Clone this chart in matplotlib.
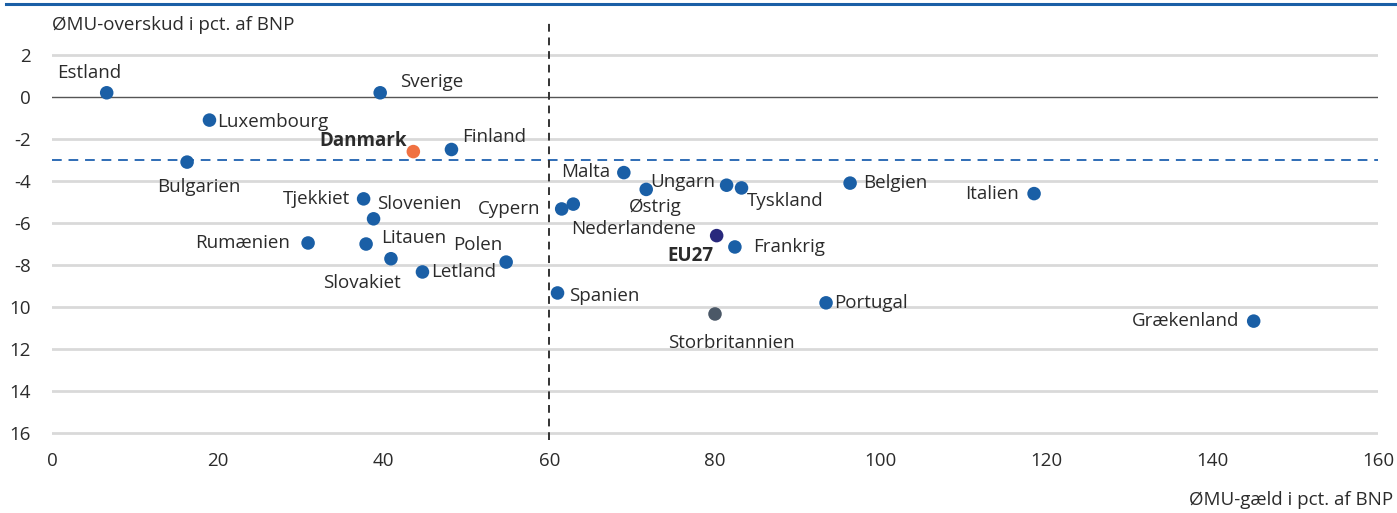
import matplotlib
matplotlib.use('Agg')
import matplotlib.pyplot as plt
from matplotlib import font_manager

# Data: ØMU-gæld (x) og ØMU-overskud (y), i pct. af BNP
lande = ['Estland', 'Sverige', 'Luxembourg', 'Danmark', 'Finland', 'Bulgarien',
         'Tjekkiet', 'Slovenien', 'Rumænien', 'Litauen', 'Slovakiet', 'Letland',
         'Polen', 'Cypern', 'Nederlandene', 'Malta', 'Østrig', 'Ungarn',
         'Tyskland', 'Belgien', 'Italien', 'EU27', 'Frankrig', 'Spanien',
         'Storbritannien', 'Portugal', 'Grækenland']
gaeld = [6.6, 39.6, 19.0, 43.6, 48.2, 16.3,
         37.6, 38.8, 30.9, 37.9, 40.9, 44.7,
         54.8, 61.5, 62.9, 69.0, 71.7, 81.4,
         83.2, 96.3, 118.5, 80.2, 82.4, 61.0,
         80.0, 93.4, 145.0]
overskud = [0.2, 0.2, -1.1, -2.6, -2.5, -3.1,
            -4.85, -5.8, -6.95, -7.0, -7.7, -8.33,
            -7.86, -5.33, -5.1, -3.6, -4.4, -4.2,
            -4.33, -4.1, -4.6, -6.6, -7.14, -9.33,
            -10.33, -9.8, -10.67]

yticks = [2, 0, -2, -4, -6, -8, -10, -12, -14, -16]
ytick_labels = ['2', '0', '-2', '-4', '-6', '-8', '10', '12', '14', '16']
xticks = [0, 20, 40, 60, 80, 100, 120, 140, 160]

# Label placement (offset in pixels, alignment)
placering = {
    'Estland': (-18, 20, 'center'), 'Sverige': (20, 11, 'left'),
    'Luxembourg': (8, -2, 'left'), 'Danmark': (-6, 11, 'right'),
    'Finland': (11, 13, 'left'), 'Bulgarien': (12, -25, 'center'),
    'Tjekkiet': (-13, 0, 'right'), 'Slovenien': (4, 15, 'left'),
    'Rumænien': (-18, 0, 'right'), 'Litauen': (15, 6, 'left'),
    'Slovakiet': (-29, -24, 'center'), 'Letland': (9, 0, 'left'),
    'Polen': (-4, 17, 'right'), 'Cypern': (-21, 0, 'right'),
    'Nederlandene': (60, -25, 'center'), 'Malta': (-14, 1, 'right'),
    'Østrig': (9, -18, 'center'), 'Ungarn': (-11, 3, 'right'),
    'Tyskland': (5, -13, 'left'), 'Belgien': (13, 0, 'left'),
    'Italien': (-15, 0, 'right'), 'EU27': (-3, -20, 'right'),
    'Frankrig': (18, 0, 'left'), 'Spanien': (12, -3, 'left'),
    'Storbritannien': (16, -29, 'center'), 'Portugal': (8, 0, 'left'),
    'Grækenland': (-14, 0, 'right'),
}

farver = {'Danmark': '#f07142', 'EU27': '#28287c', 'Storbritannien': '#4b5867'}
fed = ['Danmark', 'EU27']
blaa = '#1a5fa6'
tekst = '#2b2b2b'

installed = {f.name for f in font_manager.fontManager.ttflist}
fams = [f for f in ['Liberation Sans Narrow', 'Open Sans', 'DejaVu Sans'] if f in installed]
plt.rcParams['font.family'] = fams

fig = plt.figure(figsize=(13.97, 5.13), dpi=100)
ax = fig.add_axes([52 / 1397, 73 / 513, 1326 / 1397, 418 / 513])

ax.set_xlim(0, 160)
ax.set_ylim(-16.33, 3.57)

for yt in yticks:
    if yt == 0:
        ax.axhline(0, color='#555555', lw=1.0, zorder=1)
    else:
        ax.axhline(yt, color='#d9d9d9', lw=2.0, zorder=0)

ax.axhline(-3, color='#2f6db5', lw=1.4, ls=(0, (5, 3.5)), zorder=2)
ax.axvline(60, color='#333333', lw=1.4, ls=(0, (4, 3)), zorder=2)

for navn, x, y in zip(lande, gaeld, overskud):
    ax.scatter(x, y, s=95, color=farver.get(navn, blaa), edgecolor='none', zorder=3)
    dx, dy, ha = placering[navn]
    ax.annotate(navn, (x, y), xytext=(dx, dy), textcoords='offset pixels',
                ha=ha, va='center', fontsize=13.5, color=tekst,
                fontweight='bold' if navn in fed else 'normal', zorder=4)

ax.set_yticks(yticks)
ax.set_yticklabels(ytick_labels)
ax.set_xticks(xticks)
ax.tick_params(length=0, labelsize=13.5, labelcolor=tekst)
ax.tick_params(axis='y', pad=15)
ax.tick_params(axis='x', pad=9)
for s in ax.spines.values():
    s.set_visible(False)

fig.text(52 / 1397, 1 - 25 / 513, 'ØMU-overskud i pct. af BNP', ha='left', va='center',
         fontsize=13.5, color=tekst)
fig.text(1393 / 1397, 1 - 500 / 513, 'ØMU-gæld i pct. af BNP', ha='right', va='center',
         fontsize=13.5, color=tekst)

# Blue rule at the top
fig.add_artist(plt.Line2D([6 / 1397, 1], [1 - 4 / 513, 1 - 4 / 513], color=blaa, lw=2.2))

fig.savefig('out.png', dpi=100)
